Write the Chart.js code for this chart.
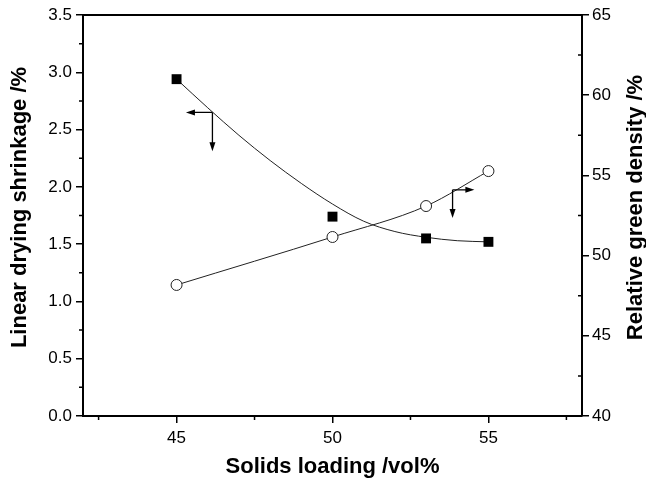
<!DOCTYPE html>
<html>
<head>
<meta charset="utf-8">
<script src="https://cdn.jsdelivr.net/npm/chart.js@4.4.1/dist/chart.umd.min.js"></script>
<style>
  html, body { margin:0; padding:0; background:#fff; }
  #wrap { width:646px; height:489px; }
</style>
</head>
<body>
<div id="wrap"><canvas id="c" width="646" height="489"></canvas></div>
<script>
// ---- data ----
const solidsLoading = [45, 50, 53, 55];
const shrinkage = [2.94, 1.74, 1.55, 1.52];        // left axis, squares
const greenDensity = [48.17, 51.16, 53.09, 55.27]; // right axis, circles

// fitted curve through the shrinkage points
const fitX = [45, 46, 47, 48, 49, 50, 51, 52, 53, 54, 55];
const fitY = [2.94, 2.69, 2.45, 2.23, 2.03, 1.85, 1.70, 1.61, 1.56, 1.53, 1.52];

// tick positions (major + minor)
const xTicks = [42.5, 45, 47.5, 50, 52.5, 55, 57.5];
const yTicks = [0,0.25,0.5,0.75,1,1.25,1.5,1.75,2,2.25,2.5,2.75,3,3.25,3.5];
const y2Ticks = [40,42.5,45,47.5,50,52.5,55,57.5,60,62.5,65];

// axis titles
const xTitle = 'Solids loading /vol%';
const yTitle = 'Linear drying shrinkage /%';
const y2Title = 'Relative green density /%';

// axis-pointer arrows (corner point and tips, in data units)
const leftArrow = { x:46.15, y:2.65, xTip:45.3, yTip:2.31 };
const rightArrow = { x:53.85, y:54.1, xTip:54.55, yTip:52.35 };

const FONT = "'Liberation Sans', Arial, Helvetica, sans-serif";

function pairs(xs, ys){ return xs.map((x,i)=>({x:x, y:ys[i]})); }
function isMajor(v, step){ return Math.abs(v/step - Math.round(v/step)) < 1e-6; }

function head(ctx, x, y, dir){
  // filled arrowhead, dir: 'left' | 'right' | 'down'
  ctx.beginPath();
  if(dir==='left'){ ctx.moveTo(x,y); ctx.lineTo(x+9,y-3); ctx.lineTo(x+9,y+3); }
  if(dir==='right'){ ctx.moveTo(x,y); ctx.lineTo(x-9,y-3); ctx.lineTo(x-9,y+3); }
  if(dir==='down'){ ctx.moveTo(x,y); ctx.lineTo(x-3,y-9); ctx.lineTo(x+3,y-9); }
  ctx.closePath();
  ctx.fill();
}

function vTitle(ctx, text, x, y){
  // vertical title reading bottom-to-top
  ctx.save();
  ctx.translate(x, y);
  ctx.rotate(-Math.PI/2);
  ctx.font = 'bold 22px ' + FONT;
  ctx.textAlign = 'center';
  ctx.textBaseline = 'middle';
  ctx.fillText(text, 0, 0);
  ctx.restore();
}

const extras = {
  id:'extras',
  afterDraw(chart){
    const ctx = chart.ctx, a = chart.chartArea;
    const sx = chart.scales.x, sy = chart.scales.y, sy2 = chart.scales.y2;
    ctx.save();
    ctx.strokeStyle = '#000';
    ctx.fillStyle = '#000';
    // top frame line
    ctx.lineWidth = 2;
    ctx.beginPath(); ctx.moveTo(a.left-1, a.top); ctx.lineTo(a.right+1, a.top); ctx.stroke();
    // minor ticks
    ctx.lineWidth = 1.5;
    ctx.beginPath();
    xTicks.filter(v=>!isMajor(v,5)).forEach(v=>{
      const p = sx.getPixelForValue(v); ctx.moveTo(p, a.bottom); ctx.lineTo(p, a.bottom+4);
    });
    yTicks.filter(v=>!isMajor(v,0.5)).forEach(v=>{
      const p = sy.getPixelForValue(v); ctx.moveTo(a.left, p); ctx.lineTo(a.left-4, p);
    });
    y2Ticks.filter(v=>!isMajor(v,5)).forEach(v=>{
      const p = sy2.getPixelForValue(v); ctx.moveTo(a.right, p); ctx.lineTo(a.right-4, p);
    });
    ctx.stroke();
    // arrows
    ctx.lineWidth = 1.3;
    let cx = sx.getPixelForValue(leftArrow.x), cy = sy.getPixelForValue(leftArrow.y);
    let tx = sx.getPixelForValue(leftArrow.xTip), ty = sy.getPixelForValue(leftArrow.yTip);
    ctx.beginPath(); ctx.moveTo(cx,cy); ctx.lineTo(tx+6,cy); ctx.moveTo(cx,cy); ctx.lineTo(cx,ty-6); ctx.stroke();
    head(ctx, tx, cy, 'left'); head(ctx, cx, ty, 'down');
    cx = sx.getPixelForValue(rightArrow.x); cy = sy2.getPixelForValue(rightArrow.y);
    tx = sx.getPixelForValue(rightArrow.xTip); ty = sy2.getPixelForValue(rightArrow.yTip);
    ctx.beginPath(); ctx.moveTo(cx,cy); ctx.lineTo(tx-6,cy); ctx.moveTo(cx,cy); ctx.lineTo(cx,ty-6); ctx.stroke();
    head(ctx, tx, cy, 'right'); head(ctx, cx, ty, 'down');
    ctx.restore();
    // vertical axis titles
    const midY = (a.top + a.bottom)/2 - 8;
    vTitle(ctx, yTitle, 20, midY);
    vTitle(ctx, y2Title, 636, midY);
  }
};

function majorGrid(step){
  return {
    display:true, drawOnChartArea:false, drawTicks:true, tickLength:7, lineWidth:1.5,
    color: c => (c.tick && isMajor(c.tick.value, step)) ? '#000' : 'rgba(0,0,0,0)'
  };
}

new Chart(document.getElementById('c'), {
  type:'line',
  data:{
    datasets:[
      { label:'fit', data:pairs(fitX, fitY), yAxisID:'y', borderColor:'#222', borderWidth:1,
        pointRadius:0, cubicInterpolationMode:'monotone', fill:false, order:3 },
      { label:'Linear drying shrinkage', data:pairs(solidsLoading, shrinkage), yAxisID:'y',
        showLine:false, pointStyle:'rect', pointRadius:7, backgroundColor:'#000', borderColor:'#000',
        borderWidth:0, order:1 },
      { label:'Relative green density', data:pairs(solidsLoading, greenDensity), yAxisID:'y2',
        borderColor:'#222', borderWidth:1, cubicInterpolationMode:'monotone',
        pointStyle:'circle', pointRadius:5.5, pointBackgroundColor:'#fff', pointBorderColor:'#222',
        pointBorderWidth:1, fill:false, order:2 }
    ]
  },
  options:{
    responsive:false, animation:false,
    layout:{ padding:{ top:15, left:0, right:0, bottom:0 } },
    plugins:{ legend:{display:false}, tooltip:{enabled:false} },
    scales:{
      x:{
        type:'linear', position:'bottom', min:42, max:58,
        afterBuildTicks: s => { s.ticks = xTicks.map(v=>({value:v})); },
        afterFit: s => { s.height = 73; },
        grid: majorGrid(5),
        border:{ display:true, color:'#000', width:2 },
        ticks:{ color:'#000', padding:5, maxRotation:0, autoSkip:false, font:{family:FONT, size:17},
          callback: v => isMajor(v,5) ? String(v) : '' },
        title:{ display:true, text:xTitle, color:'#000',
          font:{family:FONT, size:22, weight:'bold', lineHeight:1.2}, padding:{top:0, bottom:9} }
      },
      y:{
        type:'linear', position:'left', min:0, max:3.5,
        afterBuildTicks: s => { s.ticks = yTicks.map(v=>({value:v})); },
        afterFit: s => { s.width = 83; },
        grid: majorGrid(0.5),
        border:{ display:true, color:'#000', width:2 },
        ticks:{ color:'#000', padding:4, autoSkip:false, font:{family:FONT, size:17},
          callback: v => isMajor(v,0.5) ? v.toFixed(1) : '' },
        title:{ display:false }
      },
      y2:{
        type:'linear', position:'right', min:40, max:65,
        afterBuildTicks: s => { s.ticks = y2Ticks.map(v=>({value:v})); },
        afterFit: s => { s.width = 64; },
        grid: majorGrid(5),
        border:{ display:true, color:'#000', width:2 },
        ticks:{ color:'#000', padding:3, autoSkip:false, font:{family:FONT, size:17},
          callback: v => isMajor(v,5) ? String(v) : '' },
        title:{ display:false }
      }
    }
  },
  plugins:[extras]
});
</script>
</body>
</html>
